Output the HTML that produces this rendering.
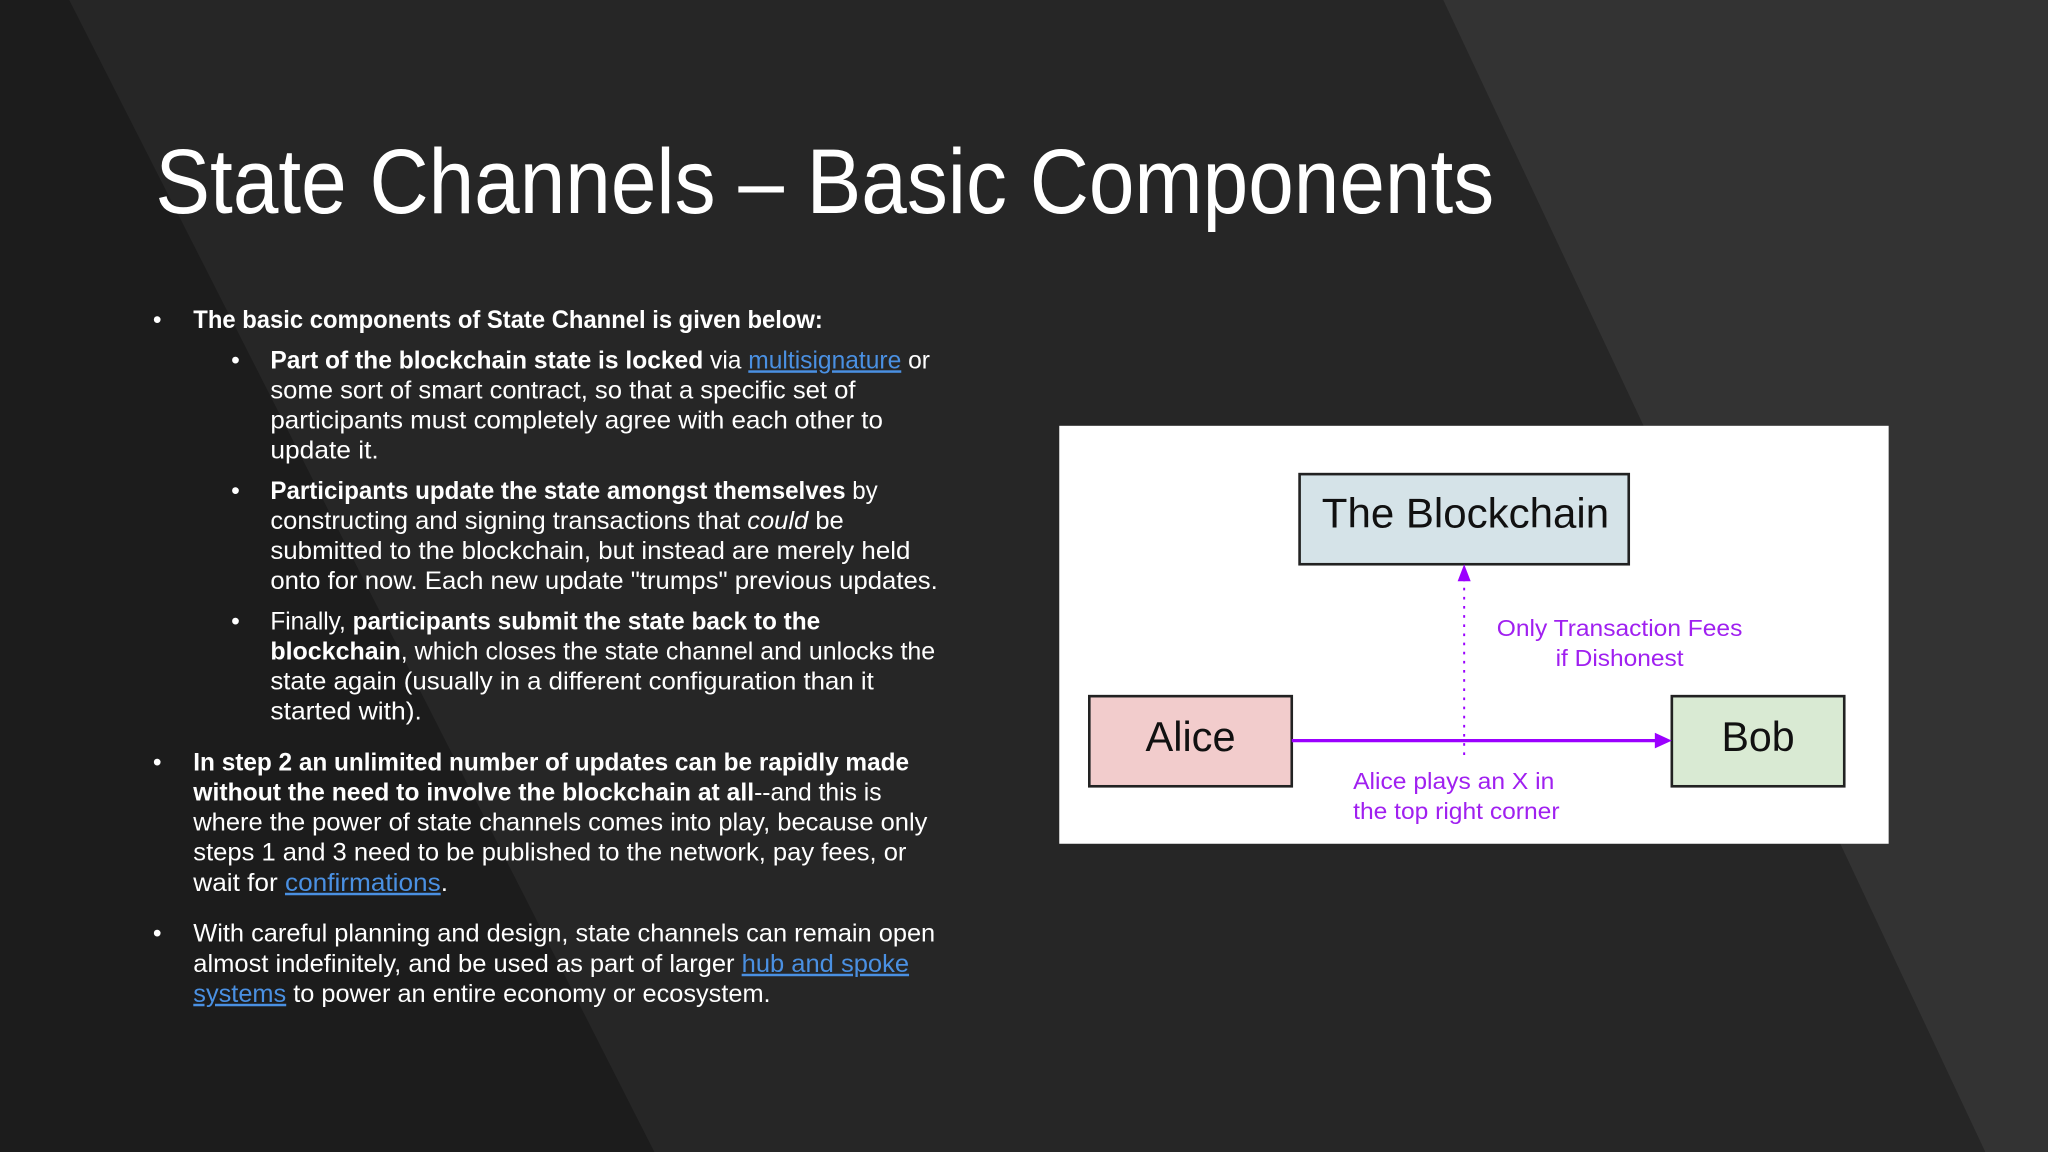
<!DOCTYPE html>
<html><head><meta charset="utf-8"><style>
html,body{margin:0;padding:0;background:#242424;}
svg{display:block;}
text{font-family:"Liberation Sans",sans-serif;}
</style></head><body>
<svg width="2048" height="1152" viewBox="0 0 1568 882" xmlns="http://www.w3.org/2000/svg">
<rect x="0" y="0" width="1568" height="882" fill="#262626"/>
<polygon points="0,0 53,0 501,882 0,882" fill="#1c1c1c"/>
<polygon points="1105,0 1568,0 1568,882 1520,882" fill="#333333"/>
<text x="119" y="163" font-size="70" fill="#fff" textLength="1025" lengthAdjust="spacingAndGlyphs">State Channels – Basic Components</text>
<g font-size="19" fill="#fff">
<text x="117" y="251">•</text>
<text x="148" y="251" textLength="482" lengthAdjust="spacingAndGlyphs" font-weight="bold">The basic components of State Channel is given below:</text>
<text x="177" y="282">•</text>
<text x="207" y="282" textLength="505" lengthAdjust="spacingAndGlyphs"><tspan font-weight="bold">Part of the blockchain state is locked</tspan> via <tspan fill="#4a90e2" text-decoration="underline">multisignature</tspan> or</text>
<text x="207" y="305" textLength="448" lengthAdjust="spacingAndGlyphs">some sort of smart contract, so that a specific set of</text>
<text x="207" y="328" textLength="469" lengthAdjust="spacingAndGlyphs">participants must completely agree with each other to</text>
<text x="207" y="351" textLength="83" lengthAdjust="spacingAndGlyphs">update it.</text>
<text x="177" y="382">•</text>
<text x="207" y="382" textLength="465" lengthAdjust="spacingAndGlyphs"><tspan font-weight="bold">Participants update the state amongst themselves</tspan> by</text>
<text x="207" y="405" textLength="439" lengthAdjust="spacingAndGlyphs">constructing and signing transactions that <tspan font-style="italic">could</tspan> be</text>
<text x="207" y="428" textLength="490" lengthAdjust="spacingAndGlyphs">submitted to the blockchain, but instead are merely held</text>
<text x="207" y="451" textLength="511" lengthAdjust="spacingAndGlyphs">onto for now. Each new update "trumps" previous updates.</text>
<text x="177" y="482">•</text>
<text x="207" y="482" textLength="421" lengthAdjust="spacingAndGlyphs">Finally, <tspan font-weight="bold">participants submit the state back to the</tspan></text>
<text x="207" y="505" textLength="509" lengthAdjust="spacingAndGlyphs"><tspan font-weight="bold">blockchain</tspan>, which closes the state channel and unlocks the</text>
<text x="207" y="528" textLength="462" lengthAdjust="spacingAndGlyphs">state again (usually in a different configuration than it</text>
<text x="207" y="551" textLength="116" lengthAdjust="spacingAndGlyphs">started with).</text>
<text x="117" y="590">•</text>
<text x="148" y="590" textLength="548" lengthAdjust="spacingAndGlyphs" font-weight="bold">In step 2 an unlimited number of updates can be rapidly made</text>
<text x="148" y="613" textLength="527" lengthAdjust="spacingAndGlyphs"><tspan font-weight="bold">without the need to involve the blockchain at all</tspan>--and this is</text>
<text x="148" y="636" textLength="562" lengthAdjust="spacingAndGlyphs">where the power of state channels comes into play, because only</text>
<text x="148" y="659" textLength="546" lengthAdjust="spacingAndGlyphs">steps 1 and 3 need to be published to the network, pay fees, or</text>
<text x="148" y="682" textLength="195" lengthAdjust="spacingAndGlyphs">wait for <tspan fill="#4a90e2" text-decoration="underline">confirmations</tspan>.</text>
<text x="117" y="721">•</text>
<text x="148" y="721" textLength="568" lengthAdjust="spacingAndGlyphs">With careful planning and design, state channels can remain open</text>
<text x="148" y="744" textLength="548" lengthAdjust="spacingAndGlyphs">almost indefinitely, and be used as part of larger <tspan fill="#4a90e2" text-decoration="underline">hub and spoke</tspan></text>
<text x="148" y="767" textLength="442" lengthAdjust="spacingAndGlyphs"><tspan fill="#4a90e2" text-decoration="underline">systems</tspan> to power an entire economy or ecosystem.</text>
</g>
<rect x="811" y="326" width="635" height="320" fill="#fff"/>
<rect x="995" y="363" width="252" height="69" fill="#d5e3e8" stroke="#222" stroke-width="2"/>
<text x="1012" y="404" font-size="32" fill="#111" textLength="220" lengthAdjust="spacingAndGlyphs">The Blockchain</text>
<rect x="834" y="533" width="155" height="69" fill="#f2cccc" stroke="#222" stroke-width="2"/>
<text x="877" y="575" font-size="32" fill="#111" textLength="69" lengthAdjust="spacingAndGlyphs">Alice</text>
<rect x="1280" y="533" width="132" height="69" fill="#d9ead3" stroke="#222" stroke-width="2"/>
<text x="1318" y="575" font-size="32" fill="#111" textLength="56" lengthAdjust="spacingAndGlyphs">Bob</text>
<line x1="989" y1="567" x2="1270" y2="567" stroke="#9b00ff" stroke-width="2.5"/>
<polygon points="1280,567 1267,561 1267,573" fill="#9b00ff"/>
<line x1="1121" y1="578" x2="1121" y2="444" stroke="#9b00ff" stroke-width="1.5" stroke-dasharray="2,5"/>
<polygon points="1121,432 1116,445 1126,445" fill="#9b00ff"/>
<g font-size="18" fill="#a020f0">
<text x="1146" y="487" textLength="188" lengthAdjust="spacingAndGlyphs">Only Transaction Fees</text>
<text x="1191" y="510" textLength="98" lengthAdjust="spacingAndGlyphs">if Dishonest</text>
<text x="1036" y="604" textLength="154" lengthAdjust="spacingAndGlyphs">Alice plays an X in</text>
<text x="1036" y="627" textLength="158" lengthAdjust="spacingAndGlyphs">the top right corner</text>
</g>
</svg>
</body></html>
